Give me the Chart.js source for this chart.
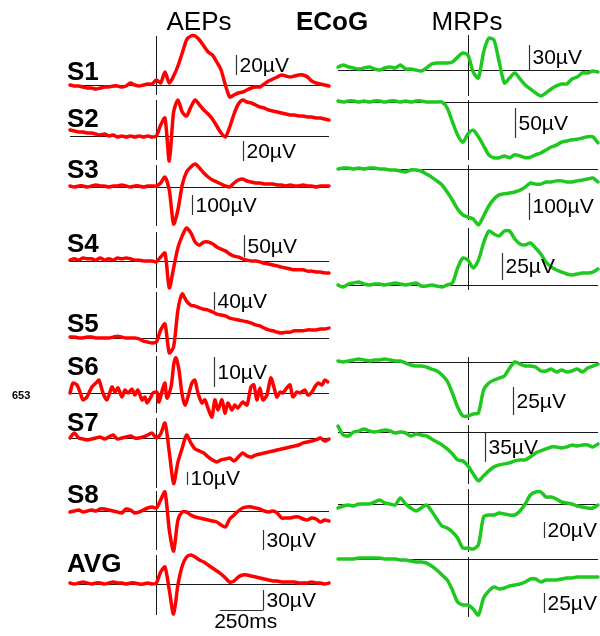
<!DOCTYPE html>
<html>
<head>
<meta charset="utf-8">
<script src="https://cdn.jsdelivr.net/npm/chart.js@4.4.1/dist/chart.umd.min.js"></script>
<style>
  html, body { margin: 0; padding: 0; background: #fff; }
  body { width: 600px; height: 636px; position: relative; overflow: hidden;
         font-family: "Liberation Sans", Arial, sans-serif; }
  canvas { position: absolute; }
  .txt { position: absolute; white-space: nowrap; color: #000; }
</style>
</head>
<body>
<script>
// ---- time axes (ms relative to stimulus / movement onset) ----
const AEP_T = [-500,-475,-450,-425,-400,-375,-350,-325,-300,-275,-250,-225,-200,-175,-150,-125,-100,-75,-50,-25,
  0,25,50,75,100,125,150,175,200,225,250,275,300,325,350,375,400,425,450,475,500,525,550,575,600,625,650,675,700,725,
  750,775,800,825,850,875,900,925,950,975,1000];
// S6 is sampled at its turning points (it oscillates faster than the common grid)
const AEP_S6_T = [-500,-483,-460,-442,-425,-402,-373,-344,-332,-309,-286,-257,-239,-222,-199,-182,-164,-141,-124,-107,
  -83,-66,-54,-31,-20,3,15,38,50,61,85,102,113,131,148,166,183,206,223,241,264,281,299,322,339,357,380,397,415,438,
  455,472,501,525,548,565,582,600,617,640,663,681,698,716,733,756,774,791,814,831,860,878,901,918,936,959,976,993];
const MRP_T = [-1000,-960,-920,-880,-840,-800,-760,-720,-680,-640,-600,-560,-520,-480,-440,-400,-360,-320,-280,-240,
  -200,-160,-120,-80,-40,0,40,80,120,160,200,240,280,320,360,400,440,480,520,560,600,640,680,720,760,800,840,880,920,960,1000];

// ---- auditory evoked potentials (µV) ----
const AEP_S1 = [0,-1,-1,-2,-3,-3,-4,-3,-2,-2,-1,-1,-2,-1,2,0,-1,0,1,1,5,2,13,2,9,19,32,45,49,49,45,39,33,30,23,15,0,-12,-10,-8,-7,-5,-3,-2,-2,1,4,6,8,10,9,8,9,10,10,8,4,2,1,0,-1];
const AEP_S2 = [6,5,4,4,3,3,2,1,2,0,1,-1,0,-1,0,-1,0,-1,0,-1,0,11,18,-25,24,36,24,20,29,36,31,26,22,17,10,3,-1,9,22,32,36,34,33,31,29,28,26,25,24,23,22,21,21,20,20,19,19,18,18,17,16];
const AEP_S3 = [5,0,5,5,0,5,10,5,5,0,5,5,10,5,0,5,5,0,5,5,5,20,50,-15,-185,-115,10,75,100,115,95,70,50,35,25,15,5,0,20,35,40,30,25,20,20,15,15,15,10,10,5,10,5,5,10,5,5,0,5,5,5];
const AEP_S4 = [2,5,2,7,5,5,2,7,2,5,2,7,5,7,5,2,2,0,0,0,-2,9,18,-61,-16,30,57,75,64,43,36,43,43,39,32,27,23,16,11,9,5,2,0,0,-2,-5,-7,-9,-11,-14,-16,-18,-20,-20,-20,-23,-23,-25,-25,-27,-27];
const AEP_S5 = [2,2,0,0,2,2,0,0,0,0,2,4,2,0,0,0,-2,-7,-9,-11,-9,18,31,-33,-20,62,98,82,73,71,67,64,62,58,53,51,49,44,42,40,38,36,33,29,27,22,18,16,13,11,13,13,16,16,16,18,18,18,20,20,22];
const AEP_S6 = [0,3.3,2.7,0.3,-2.3,-1.3,2,3.7,4.3,0,-2.3,2,0.3,1.7,-1.3,1,0,1.3,-0.7,1,
  -2.3,-1.3,-3.3,-1.3,0,0.3,-3,1.7,3.3,-1.7,2,10,11.7,7.7,0,-4,-1.3,3.3,4.3,0,
  -3.3,-2.3,-5,-8,-2.3,-5.7,-2.3,-6.7,-3.3,-5.7,-4,-5,-3,-4,2,2.7,-2.3,1.7,-2.3,-0.7,
  5,2,-1.3,0.3,0,1.7,2.7,-1.3,0.3,0,1,-0.7,0.3,2,3.3,2.7,4.3,3.7];
const AEP_S7 = [0,3.8,0,-0.8,-1.5,-0.8,0,0.8,-0.8,0.8,2.3,-0.8,0,0.8,1.5,0,0,0.8,2.3,3.8,0,3.1,11.5,-10.8,-35,-18.5,-7.7,2.3,-3.8,-8.5,-10,-11.5,-14.6,-16.9,-18.5,-16.9,-16.2,-15.4,-17.7,-14.6,-11.5,-13.8,-14.6,-13.1,-12.3,-11.5,-10.8,-10,-9.2,-8.5,-7.7,-6.9,-6.2,-5.4,-3.8,-3.1,-2.3,-1.5,0,-2.3,-0.8];
const AEP_S8 = [-1.5,0,1.5,-1.5,0,1.5,0,3,3,1.5,0,-1.5,-3,3,1.5,-3,-1.5,1.5,4.5,6,4.5,16.5,28.5,-28.5,-60,-13.5,-1.5,-1.5,-6,-9,-10.5,-12,-13.5,-15,-16.5,-21,-24,-12,-6,0,4.5,6,6,4.5,3,0,-1.5,0,-3,-10.5,-10.5,-10.5,-9,-9,-12,-13.5,-10.5,-12,-16.5,-13.5,-15];
const AEP_AVG = [1.5,0,1.5,3,1.5,0,1.5,1.5,0,1.5,3,1.5,1.5,0,1.5,1.5,0,0,1.5,0,1.5,18,25.5,-9,-45,-1.5,27,40.5,43.5,40.5,36,33,28.5,24,19.5,15,9,3,4.5,10.5,13.5,13.5,12,10.5,9,7.5,6,4.5,4.5,3,3,3,3,1.5,1.5,1.5,3,1.5,1.5,0,1.5];

// ---- movement-related potentials (µV) ----
const MRP_S1 = [3.6,6,3.6,2.4,1.2,2.4,3.6,1.2,0,2.4,3.6,2.4,6,1.2,1.2,0,-1.2,2.4,7.2,8.4,8.4,8.4,9.6,15.6,20.4,18,-2.4,-9.6,21.6,38.4,36,9.6,-15.6,-9.6,-3.6,-10.8,-18,-22.8,-27.6,-31.2,-27.6,-22.8,-19.2,-16.8,-16.8,-10.8,-8.4,-3.6,-3.6,-1.2,-2.4];
const MRP_S2 = [1.7,0,1.7,1.7,0,1.7,0,1.7,1.7,0,1.7,1.7,0,1.7,0,1.7,1.7,0,0,0,0,-10,-33,-55,-67,-53,-47,-58,-73,-88,-93,-93,-90,-93,-88,-90,-93,-92,-88,-85,-80,-75,-72,-67,-65,-63,-62,-60,-58,-58,-68];
const MRP_S3 = [0,3.7,3.7,0,3.7,0,3.7,3.7,0,0,-3.7,-3.7,-7.4,-11,-3.7,-3.7,-7.4,-18.5,-30,-44,-59,-85,-115,-148,-170,-178,-185,-207,-174,-137,-111,-96,-92,-89,-85,-78,-67,-52,-56,-56,-48,-48,-44,-44,-48,-48,-44,-41,-37,-33,-48];
const MRP_S4 = [0,-1.9,0.9,1.9,2.8,0.9,0,0.9,0.9,0,0.9,1.9,0.9,0,0.9,1.9,-0.9,-0.9,0,-0.9,-1.9,0,1.9,15.7,25,23,15.7,23,38.9,50,47.2,45.4,50,50,42.6,38,37,38.9,34.3,28.7,21.3,16.7,13.9,12,10.2,9.3,10.2,11.1,11.1,12,14.8];
const MRP_S6 = [0.9,0,0.9,1.8,2.7,1.8,0.9,1.8,1.8,2.7,1.8,0.9,0.9,-0.9,-2.7,-3.6,-3.6,-4.5,-6.3,-8,-11.6,-17,-27.7,-40.2,-48.2,-48.2,-46.4,-45.5,-25,-18.8,-16.1,-14.3,-12.5,-5.4,0,-1.8,-3.6,-3.6,-4.5,-8,-8,-6.3,-8.9,-7.1,-8.9,-8,-6.3,-8.9,-5.4,-3.6,-1.8];
const MRP_S7 = [7.2,-3.6,-4.8,0,1.2,3.6,1.2,0,1.2,2.4,1.2,-1.2,0,-1.2,-4.8,-2.4,-3.6,-4.8,-8.4,-12,-15.6,-20.4,-26.4,-33.6,-34.8,-40.8,-50.4,-58.8,-52.8,-46.8,-42,-39.6,-38.4,-37.2,-34.8,-33.6,-33.6,-30,-25.2,-22.8,-20.4,-18,-18,-19.2,-18,-15.6,-16.8,-15.6,-15.6,-18,-14.4];
const MRP_S8 = [-5,-2.5,-1.25,-2.5,0,0,0,2.5,5,1.25,0,-1.25,7.5,0,-5,-8.75,-5,-1.25,-8.75,-18.75,-27.5,-30,-35,-42.5,-55,-55,-56.25,-51,-16.25,-13.75,-13.75,-11.25,-12.5,-13.75,-13.75,-8.75,0,11.25,15,15,8.75,8.75,6.25,2.5,1.25,0,-2.5,-3.75,-5,-5,-1.25];
const MRP_AVG = [0,0,0,0,1.25,1.25,1.25,1.25,1.25,0,0,0,-1.25,-1.25,-2.5,-3.75,-3.75,-5,-8.75,-13.75,-20,-26.25,-38.75,-53.75,-57.5,-57.5,-62.5,-70,-48.75,-40,-35,-37.5,-36.25,-33.75,-32.5,-31.25,-28.75,-25,-25,-28.75,-26.25,-26.25,-26.25,-25,-23.75,-23.75,-22.5,-22.5,-22.5,-22.5,-22.5];

// ---- scale-bar sizes (µV) and time bar (ms) ----
const AEP_BAR_UV = [20, 20, 100, 50, 40, 10, 10, 30, 30];
const MRP_BAR_UV = [30, 50, 100, 25, 25, 35, 20, 25];
const TIME_BAR_MS = 250;

const ROW_LABELS = ['S1','S2','S3','S4','S5','S6','S7','S8','AVG'];

// ---- layout (pixels) ----
const PADX = 8, PADY = 70;
const COLS = {
  aep: { left: 70, right: 329, tmin: -500, tmax: 1000, color: '#ff0000' },
  mrp: { left: 338, right: 598, tmin: -1000, tmax: 1000, color: '#1ec81e' }
};
// base: pixel row of 0 µV, top/bottom: extent of the onset marker, k: pixels per µV,
// barT/barY: where the scale bar sits (ms, µV)
const AEP_PANELS = [
  { data: AEP_S1,  base: 85,  top: 36,  bottom: 95,  k: 1.0,   barT: 461, barY: 10 },
  { data: AEP_S2,  base: 136, top: 100, bottom: 160, k: 1.0,   barT: 501, barY: -25 },
  { data: AEP_S3,  base: 187, top: 165, bottom: 226, k: 0.2,   barT: 206, barY: -140 },
  { data: AEP_S4,  base: 261, top: 232, bottom: 288, k: 0.44,  barT: 507, barY: 9 },
  { data: AEP_S5,  base: 338, top: 292, bottom: 352, k: 0.45,  barT: 335, barY: 62 },
  { data: AEP_S6,  base: 393, top: 356, bottom: 413, k: 3.0,   barT: 335, barY: 2, t: AEP_S6_T },
  { data: AEP_S7,  base: 438, top: 418, bottom: 488, k: 1.3,   barT: 177, barY: -36 },
  { data: AEP_S8,  base: 511, top: 491, bottom: 550, k: 0.667, barT: 618, barY: -58.5 },
  { data: AEP_AVG, base: 584, top: 555, bottom: 615, k: 0.667, barT: 618, barY: -39, timeBar: true }
];
const MRP_PANELS = [
  { data: MRP_S1,  base: 70,  top: 35,  bottom: 96,  k: 0.83, barT: 469, barY: 0 },
  { data: MRP_S2,  base: 102, top: 100, bottom: 160, k: 0.6,  barT: 362, barY: -60 },
  { data: MRP_S3,  base: 169, top: 165, bottom: 220, k: 0.27, barT: 469, barY: -189 },
  { data: MRP_S4,  base: 285, top: 228, bottom: 290, k: 1.08, barT: 262, barY: 4.6 },
  { data: MRP_S6,  base: 362, top: 357, bottom: 420, k: 1.12, barT: 346, barY: -47.3 },
  { data: MRP_S7,  base: 432, top: 425, bottom: 484, k: 0.83, barT: 131, barY: -36 },
  { data: MRP_S8,  base: 504, top: 489, bottom: 552, k: 0.8,  barT: 585, barY: -42.5 },
  { data: MRP_AVG, base: 559, top: 557, bottom: 617, k: 0.8,  barT: 585, barY: -67.5 }
];
const LABEL_BASELINES = [80, 127, 178, 252, 332, 375, 431, 503, 572];
const SCALE_FONT = '21px "Liberation Sans", Arial, sans-serif';

// zero line, onset marker and calibration bars, drawn from the chart's own scales
const guides = {
  id: 'guides',
  beforeDatasetsDraw(chart, args, o) {
    const { ctx, chartArea: a, scales: { x, y } } = chart;
    ctx.save();
    ctx.lineWidth = 1;
    ctx.strokeStyle = '#1a1a1a';
    const y0 = Math.round(y.getPixelForValue(0)) + 0.5;
    ctx.beginPath(); ctx.moveTo(a.left, y0); ctx.lineTo(a.right, y0); ctx.stroke();
    const x0 = Math.round(x.getPixelForValue(0)) + 0.5;
    ctx.beginPath(); ctx.moveTo(x0, a.top); ctx.lineTo(x0, a.bottom); ctx.stroke();
    ctx.restore();
  },
  afterDatasetsDraw(chart, args, o) {
    const { ctx, scales: { x, y } } = chart;
    ctx.save();
    ctx.strokeStyle = '#333';
    ctx.lineWidth = 1.2;
    const bx = Math.round(x.getPixelForValue(o.barT)) + 0.5;
    const yb = y.getPixelForValue(o.barY);
    const yt = y.getPixelForValue(o.barY + o.uv);
    ctx.beginPath(); ctx.moveTo(bx, yb); ctx.lineTo(bx, yt); ctx.stroke();
    ctx.fillStyle = '#000';
    ctx.font = SCALE_FONT;
    ctx.textBaseline = 'middle';
    ctx.textAlign = 'left';
    ctx.fillText(o.uv + 'µV', bx + 3, (yb + yt) / 2 + 1);
    if (o.timeBar) {
      const xl = x.getPixelForValue(o.barT - o.ms);
      ctx.beginPath(); ctx.moveTo(xl, Math.round(yb) + 0.5); ctx.lineTo(bx, Math.round(yb) + 0.5); ctx.stroke();
      ctx.textAlign = 'center';
      ctx.textBaseline = 'top';
      ctx.fillText(o.ms + 'ms', (xl + bx) / 2 + 4, yb + 2);
    }
    ctx.restore();
  }
};

function panel(col, times, p, uv) {
  const c = document.createElement('canvas');
  const w = col.right - col.left + 2 * PADX;
  const h = p.bottom - p.top + 2 * PADY;
  c.width = w; c.height = h;
  c.style.left = (col.left - PADX) + 'px';
  c.style.top = (p.top - PADY) + 'px';
  c.style.width = w + 'px'; c.style.height = h + 'px';
  document.body.appendChild(c);
  const ts = p.t || times;
  new Chart(c, {
    type: 'line',
    data: {
      datasets: [{
        data: ts.map((t, i) => ({ x: t, y: p.data[i] })),
        borderColor: col.color,
        borderWidth: 3.5,
        pointRadius: 0,
        tension: 0.25,
        clip: false,
        borderJoinStyle: 'round',
        borderCapStyle: 'round'
      }]
    },
    options: {
      responsive: false,
      animation: false,
      events: [],
      layout: { padding: { left: PADX, right: PADX, top: PADY, bottom: PADY } },
      elements: { line: { capBezierPoints: false } },
      scales: {
        x: { type: 'linear', display: false, min: col.tmin, max: col.tmax },
        y: { type: 'linear', display: false,
             min: -(p.bottom - p.base) / p.k, max: (p.base - p.top) / p.k }
      },
      plugins: {
        legend: { display: false },
        tooltip: { enabled: false },
        guides: { barT: p.barT, barY: p.barY, uv: uv, timeBar: !!p.timeBar, ms: TIME_BAR_MS }
      }
    },
    plugins: [guides]
  });
}

AEP_PANELS.forEach((p, i) => panel(COLS.aep, AEP_T, p, AEP_BAR_UV[i]));
MRP_PANELS.forEach((p, i) => panel(COLS.mrp, MRP_T, p, MRP_BAR_UV[i]));

// text
function text(str, x, baseline, size, bold, align) {
  const d = document.createElement('div');
  d.className = 'txt';
  d.textContent = str;
  d.style.fontSize = size + 'px';
  d.style.lineHeight = size + 'px';
  d.style.fontWeight = bold ? 'bold' : 'normal';
  d.style.top = (baseline - Math.round(size * 0.846)) + 'px';
  if (align === 'center') {
    d.style.left = (x - 100) + 'px';
    d.style.width = '200px';
    d.style.textAlign = 'center';
  } else {
    d.style.left = x + 'px';
  }
  document.body.appendChild(d);
}
text('AEPs', 199, 30, 26, false, 'center');
text('ECoG', 332, 30, 26, true, 'center');
text('MRPs', 467, 30, 26, false, 'center');
ROW_LABELS.forEach((s, i) => text(s, 67, LABEL_BASELINES[i], 26, true));
text('653', 12, 399, 11, true);
</script>
</body>
</html>
